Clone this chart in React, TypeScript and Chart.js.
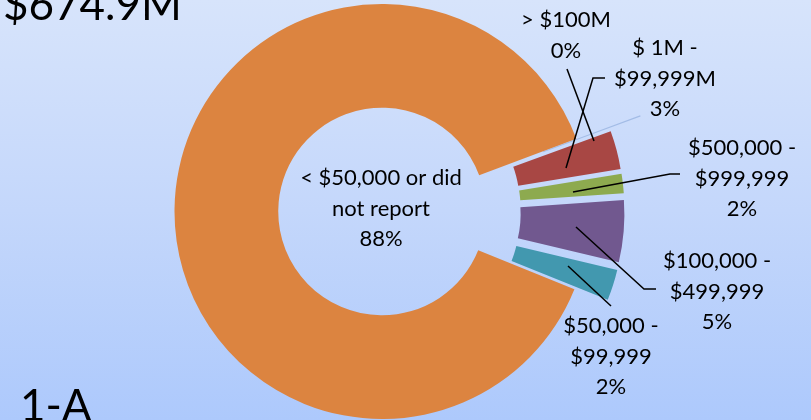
import React, { useEffect, useRef } from "react";
import { Chart, registerables } from "chart.js";

Chart.register(...registerables);

// ---- data ----
const categoryLines: string[][] = [
  ["> $100M"],
  ["$ 1M -", "$99,999M"],
  ["$500,000 -", "$999,999"],
  ["$100,000 -", "$499,999"],
  ["$50,000 -", "$99,999"],
  ["< $50,000 or did", "not report"],
];
const shares = [0.1, 3.0, 1.5, 4.8, 2.4, 88.2];
const percentLabels = ["0%", "3%", "2%", "5%", "2%", "88%"];
const totalLabel = "$674.9M";
const panelLabel = "1-A";

// ---- styles / layout ----
const sliceColors = ["#A3BCE6", "#A84744", "#8DAA4F", "#71588F", "#4298AF", "#DC8440"];
const explodePx = [68, 35, 35, 35, 35, 0];
const FONT = "Lato, 'Open Sans', sans-serif";
const LINE_H = 30.5;
// label layout relative to the doughnut centre: text centre x, first baseline y, leader polyline
const labelLayout = [
  { x: 184, y: -184.5, leader: [[185, -142.5], [212, -70.5]] },
  { x: 283, y: -156.5, leader: [[223, -133.5], [211, -133.5], [184, -43.5]] },
  { x: 360, y: -56.5, leader: [[298, -37.5], [288, -37.5], [191, -19.5]] },
  { x: 335, y: 56.5, leader: [[274, 77.5], [262, 77.5], [194, 15.5]] },
  { x: 229, y: 121.5, leader: [[186, 54.5], [229, 94.5]] },
  { x: -1, y: -26.5, leader: [] as number[][] },
];

const explodePlugin = {
  id: "explodeSlices",
  afterDatasetsUpdate(chart: any) {
    const meta = chart.getDatasetMeta(0);
    meta.data.forEach((el: any, i: number) => {
      const d = explodePx[i] || 0;
      if (!d) return;
      const mid = (el.startAngle + el.endAngle) / 2;
      el.x += Math.cos(mid) * d;
      el.y += Math.sin(mid) * d;
    });
  },
};

const labelPlugin = {
  id: "sliceLabels",
  afterDraw(chart: any) {
    const ctx: CanvasRenderingContext2D = chart.ctx;
    const a = chart.chartArea;
    const cx = (a.left + a.right) / 2;
    const cy = (a.top + a.bottom) / 2;
    ctx.save();
    // leaders
    ctx.strokeStyle = "#000";
    ctx.lineWidth = 1.5;
    labelLayout.forEach((l) => {
      if (!l.leader.length) return;
      ctx.beginPath();
      l.leader.forEach((p, j) => {
        if (j === 0) ctx.moveTo(cx + p[0], cy + p[1]);
        else ctx.lineTo(cx + p[0], cy + p[1]);
      });
      ctx.stroke();
    });
    // texts
    ctx.fillStyle = "#000";
    ctx.textAlign = "center";
    ctx.textBaseline = "alphabetic";
    ctx.font = `22px ${FONT}`;
    labelLayout.forEach((l, i) => {
      const lines = [...categoryLines[i], percentLabels[i]];
      lines.forEach((t, j) => {
        ctx.fillText(t, cx + l.x, cy + l.y + j * LINE_H);
      });
    });
    // panel texts
    ctx.textAlign = "left";
    ctx.font = `44px ${FONT}`;
    ctx.fillText(totalLabel, 3, 20);
    ctx.fillText(panelLabel, 20, 421);
    ctx.restore();
  },
};

export default function App() {
  const ref = useRef<HTMLCanvasElement | null>(null);
  useEffect(() => {
    if (!ref.current) return;
    const chart = new Chart(ref.current, {
      type: "doughnut",
      data: {
        labels: categoryLines.map((l) => l.join(" ")),
        datasets: [
          {
            data: shares,
            backgroundColor: sliceColors,
            borderWidth: 0,
          },
        ],
      },
      options: {
        responsive: false,
        animation: false,
        devicePixelRatio: 1,
        rotation: 69.5,
        cutout: "50%",
        radius: 207.5,
        layout: { padding: { left: 0, right: 47, top: 3, bottom: 0 } },
        plugins: {
          legend: { display: false },
          tooltip: { enabled: false },
        },
        events: [],
      } as any,
      plugins: [explodePlugin, labelPlugin],
    });
    return () => chart.destroy();
  }, []);
  return (
    <div
      style={{
        position: "absolute",
        left: 0,
        top: 0,
        width: 811,
        height: 420,
        overflow: "hidden",
        background: "linear-gradient(to bottom, #D7E4FB 0%, #C4D7FB 50%, #ADC9FC 100%)",
      }}
    >
      <canvas ref={ref} width={811} height={420} style={{ display: "block" }} />
    </div>
  );
}
